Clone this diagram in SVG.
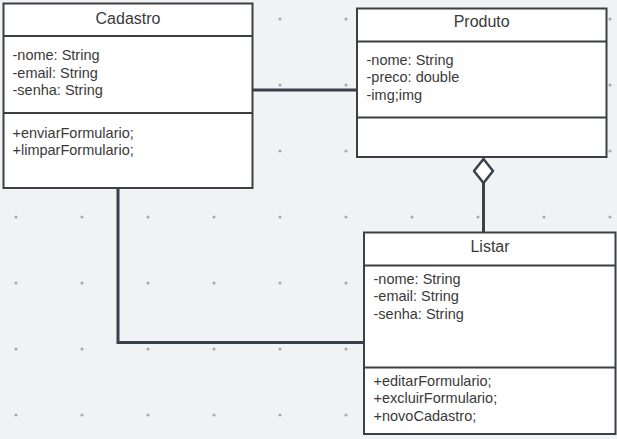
<svg xmlns="http://www.w3.org/2000/svg" width="617" height="439" viewBox="0 0 617 439">
<defs>
<pattern id="dots" x="0" y="0" width="66" height="66" patternUnits="userSpaceOnUse" patternTransform="translate(16,19)">
<circle cx="0" cy="0" r="1.6" fill="#a9abae"/>
<circle cx="66" cy="0" r="1.6" fill="#a9abae"/>
<circle cx="0" cy="66" r="1.6" fill="#a9abae"/>
<circle cx="66" cy="66" r="1.6" fill="#a9abae"/>
</pattern>
<style>
.box{fill:#ffffff;stroke:#3d3f42;stroke-width:2}
.sep{stroke:#3d3f42;stroke-width:2}
.title{font-family:"Liberation Sans",Arial,sans-serif;font-size:16px;fill:#3a3a3a;text-anchor:middle}
.txt{font-family:"Liberation Sans",Arial,sans-serif;font-size:14.5px;fill:#3a3a3a}
.conn{fill:none;stroke:#3a414b;stroke-width:3}
</style>
</defs>
<rect width="617" height="439" fill="#f1f2f4"/>
<rect width="617" height="439" fill="url(#dots)"/>

<g id="connectors">
<path class="conn" d="M253,90 H357"/>
<path class="conn" d="M118,188 V342.5 H364"/>
<path class="conn" d="M483.5,183 V232"/>
<path d="M483.5,159 L474,171 L483.5,183 L493,171 Z" fill="#ffffff" stroke="#3a414b" stroke-width="2.5" stroke-linejoin="round"/>
</g>

<g id="Cadastro">
<rect class="box" x="3.5" y="3.5" width="249" height="184.5"/>
<line class="sep" x1="3.5" y1="36" x2="252.5" y2="36"/>
<line class="sep" x1="3.5" y1="113" x2="252.5" y2="113"/>
<text class="title" x="128" y="23.5">Cadastro</text>
<text class="txt" x="12.5" y="60">-nome: String</text>
<text class="txt" x="12.5" y="77.5">-email: String</text>
<text class="txt" x="12.5" y="95">-senha: String</text>
<text class="txt" x="12.5" y="137.5">+enviarFormulario;</text>
<text class="txt" x="12.5" y="155">+limparFormulario;</text>
</g>

<g id="Produto">
<rect class="box" x="357" y="8.5" width="249.5" height="148.5"/>
<line class="sep" x1="357" y1="41.5" x2="606.5" y2="41.5"/>
<line class="sep" x1="357" y1="117.5" x2="606.5" y2="117.5"/>
<text class="title" x="481.7" y="27">Produto</text>
<text class="txt" x="366.5" y="64.5">-nome: String</text>
<text class="txt" x="366.5" y="82">-preco: double</text>
<text class="txt" x="366.5" y="99.5">-img;img</text>
</g>

<g id="Listar">
<rect class="box" x="364" y="232.5" width="251.5" height="201.5"/>
<line class="sep" x1="364" y1="265.5" x2="615.5" y2="265.5"/>
<line class="sep" x1="364" y1="367.5" x2="615.5" y2="367.5"/>
<text class="title" x="490" y="252">Listar</text>
<text class="txt" x="373.5" y="283.5">-nome: String</text>
<text class="txt" x="373.5" y="301">-email: String</text>
<text class="txt" x="373.5" y="319">-senha: String</text>
<text class="txt" x="373.5" y="385.5">+editarFormulario;</text>
<text class="txt" x="373.5" y="403">+excluirFormulario;</text>
<text class="txt" x="373.5" y="421">+novoCadastro;</text>
</g>
</svg>
